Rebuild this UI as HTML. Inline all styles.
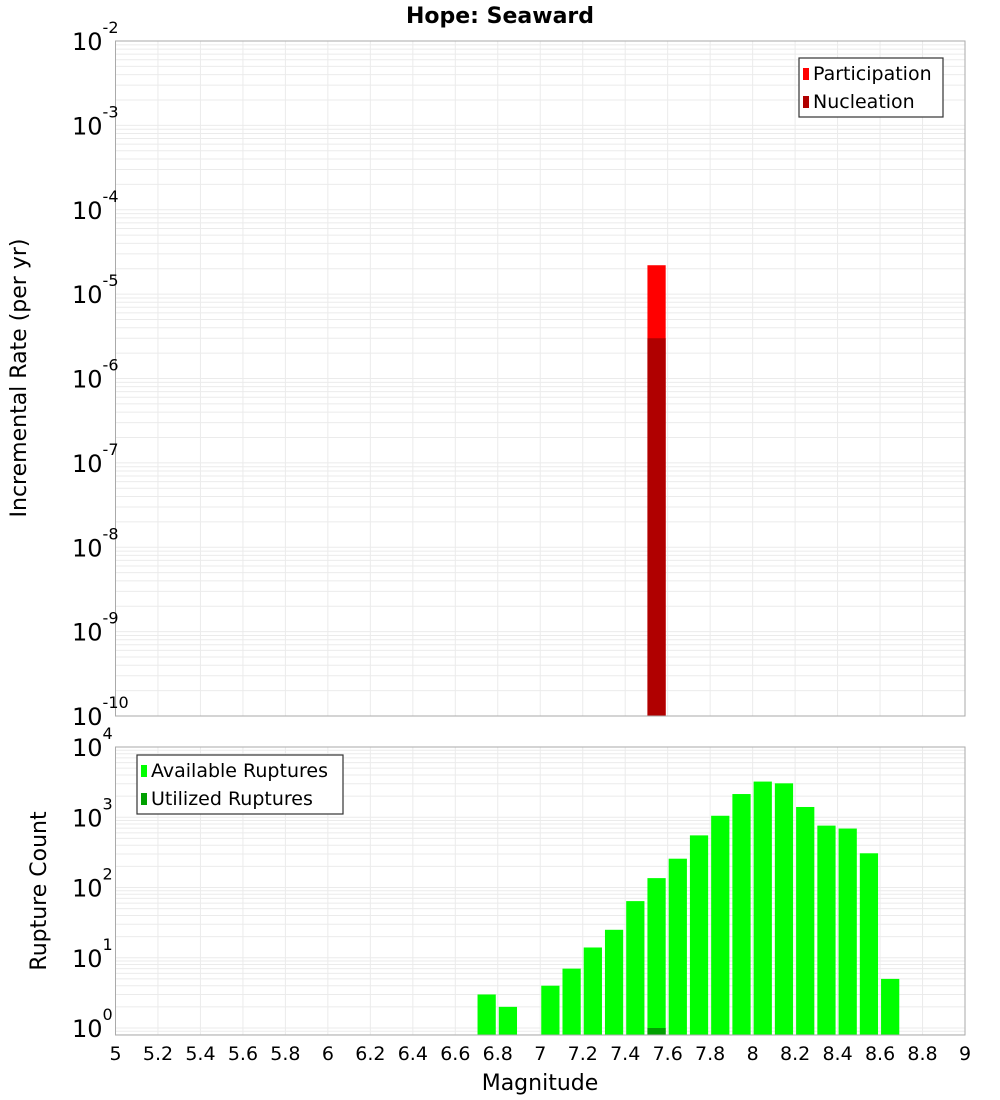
<!DOCTYPE html>
<html><head><meta charset="utf-8"><style>
body{margin:0;background:#fff;font-family:"DejaVu Sans","Liberation Sans",sans-serif}
svg{display:block}
</style></head><body>
<svg id="c" width="1000" height="1100" xmlns="http://www.w3.org/2000/svg">
<text x="500" y="23" text-anchor="middle" font-size="22" font-weight="bold">Hope: Seaward</text>
<text transform="translate(26,378) rotate(-90)" text-anchor="middle" font-size="22">Incremental Rate (per yr)</text>
<text transform="translate(46,891) rotate(-90)" text-anchor="middle" font-size="22">Rupture Count</text>
<text x="540" y="1090" text-anchor="middle" font-size="22">Magnitude</text>
</svg>
<script>
const topBinStarts=[7.5];
const participation=[2.2e-5];
const nucleation=[3.0e-6];
const binStarts=[6.7,6.8,7.0,7.1,7.2,7.3,7.4,7.5,7.6,7.7,7.8,7.9,8.0,8.1,8.2,8.3,8.4,8.5,8.6];
const available=[3,2,4,7,14,25,64,136,257,552,1050,2140,3220,3040,1400,760,690,307,5];
const utilizedBins=[7.5];
const utilized=[1];
const xTicks=[5,5.2,5.4,5.6,5.8,6,6.2,6.4,6.6,6.8,7,7.2,7.4,7.6,7.8,8,8.2,8.4,8.6,8.8,9];
const xTickLabels=["5","5.2","5.4","5.6","5.8","6","6.2","6.4","6.6","6.8","7","7.2","7.4","7.6","7.8","8","8.2","8.4","8.6","8.8","9"];
const topExps=[-2,-3,-4,-5,-6,-7,-8,-9,-10];
const botExps=[0,1,2,3,4];

const svg=document.getElementById('c');
const NS='http://www.w3.org/2000/svg';
function mk(tag,attrs,parent){const e=document.createElementNS(NS,tag);for(const k in attrs)e.setAttribute(k,attrs[k]);(parent||svg).appendChild(e);return e;}
const L=115.5,R=965;
const x=v=>L+(v-5)/4*(R-L);
const T1=41,B1=716;
const yTop=v=>T1+(-2-Math.log10(v))/8*(B1-T1);
const T2=747,B2=1035,dec2=70.25,y0=1028;
const yBot=v=>y0-Math.log10(v)*dec2;

function grid(yf,lo,hi,top,bot,name){
  const g=mk('g',{});
  
  
  for(let e=lo-1;e<=hi;e++){for(let m=1;m<10;m++){const yy=yf(m*Math.pow(10,e));if(yy<top||yy>bot)continue;
    const l=mk('line',{x1:L,x2:R,y1:yy,y2:yy,stroke:'#ebebeb','stroke-width':1},g);
    }}
  xTicks.forEach(t=>{const l=mk('line',{x1:x(t),x2:x(t),y1:top,y2:bot,stroke:'#ebebeb','stroke-width':1},g);
    });
}
grid(yTop,-10,-2,T1,B1,'top-grid');
grid(yBot,0,4,T2,B2,'bottom-grid');

// top bars
topBinStarts.forEach((b,i)=>{
  const r=mk('rect',{x:x(b)+1,y:yTop(participation[i]),width:x(b+0.1)-x(b)-3,height:B1-yTop(participation[i]),fill:'#ff0000'});
  
  const r2=mk('rect',{x:x(b)+1,y:yTop(nucleation[i]),width:x(b+0.1)-x(b)-3,height:B1-yTop(nucleation[i]),fill:'#b00000'});
  
});
// bottom bars
binStarts.forEach((b,i)=>{
  const yy=yBot(available[i]);
  const r=mk('rect',{x:x(b)+1,y:yy,width:x(b+0.1)-x(b)-3,height:B2-yy,fill:'#00ff00'});
  
});
utilizedBins.forEach((b,i)=>{
  const yy=yBot(utilized[i]);
  const r=mk('rect',{x:x(b)+1,y:yy,width:x(b+0.1)-x(b)-3,height:B2-yy,fill:'#00a000'});
  
});
// frames
[[T1,B1,'top-plot-frame'],[T2,B2,'bottom-plot-frame']].forEach(f=>{
  const r=mk('rect',{x:L,y:f[0],width:R-L,height:f[1]-f[0],fill:'none',stroke:'#aaaaaa','stroke-width':1});
  
});
// y tick labels
function ylab(yy,e,name){
  const t=mk('text',{x:106,y:yy+9,'text-anchor':'end','font-size':24});
  
  const a=document.createElementNS(NS,'tspan');a.textContent='10';t.appendChild(a);
  const s=document.createElementNS(NS,'tspan');s.setAttribute('dy','-17');s.setAttribute('font-size','16');s.textContent=String(e);t.appendChild(s);
  t.setAttribute('text-anchor','start');
  t.setAttribute('x',String(e).length>2?72:(String(e).length>1?72:72));
}
topExps.forEach(e=>ylab(yTop(Math.pow(10,e)),e,'top-y-tick-label'));
botExps.forEach(e=>ylab(yBot(Math.pow(10,e)),e,'bottom-y-tick-label'));
// x tick labels
xTicks.forEach((t,i)=>{
  const tx=mk('text',{x:x(t),y:1060,'text-anchor':'middle','font-size':19});
  tx.textContent=xTickLabels[i];
  
});
// legends
function legend(x0,y0,w,items,name){
  const g=mk('g',{});
  
  mk('rect',{x:x0,y:y0,width:w,height:59,fill:'#fff',stroke:'#333','stroke-width':1.2},g);
  items.forEach((it,i)=>{
    mk('rect',{x:x0+4,y:y0+10+i*28,width:6,height:12,fill:it[1]},g);
    const t=mk('text',{x:x0+14,y:y0+22+i*28,'font-size':19},g);t.textContent=it[0];
    
  });
}
legend(799,58,144,[['Participation','#ff0000'],['Nucleation','#b00000']],'top-legend');
legend(137,755,206,[['Available Ruptures','#00ff00'],['Utilized Ruptures','#00a000']],'bottom-legend');
</script>
</body></html>
